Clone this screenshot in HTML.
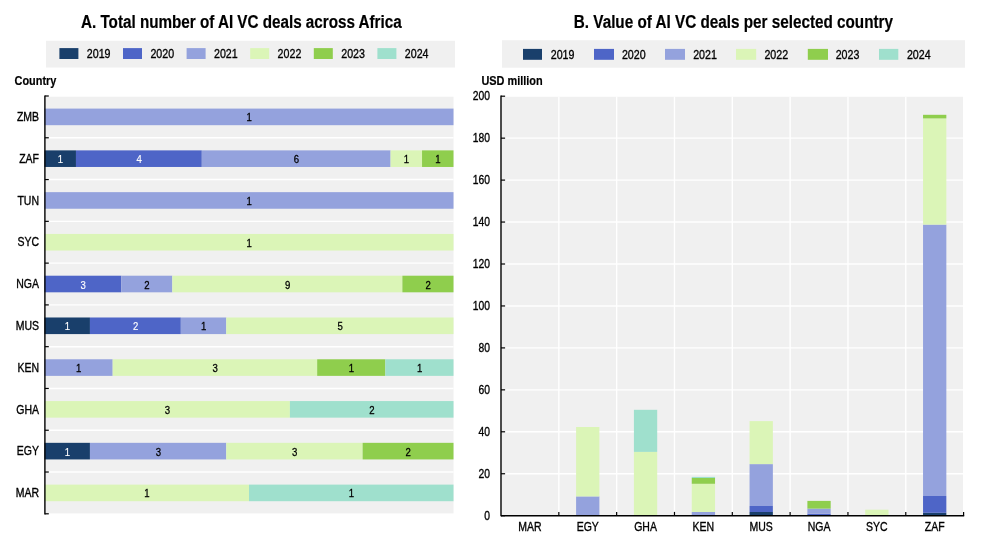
<!DOCTYPE html>
<html><head><meta charset="utf-8"><title>AI VC deals across Africa</title>
<style>
html,body{margin:0;padding:0;background:#fff;}
body{width:981px;height:541px;overflow:hidden;}
svg{display:block;font-family:"Liberation Sans",Arial,sans-serif;}
</style></head><body>
<svg width="981" height="541" viewBox="0 0 981 541">
<rect x="0" y="0" width="981" height="541" fill="#ffffff"/>
<text transform="translate(81.00,27.90) scale(0.816,1)" font-size="18.67" text-anchor="start" fill="#000" font-weight="bold" stroke="#000" stroke-width="0.2">A. Total number of AI VC deals across Africa</text>
<rect x="46.00" y="40.80" width="409.00" height="26.70" fill="#f0f0f0"/>
<rect x="59.40" y="48.10" width="19.00" height="10.90" fill="#193f6b"/>
<text transform="translate(86.80,58.10) scale(0.8,1)" font-size="13.33" text-anchor="start" fill="#000" stroke="#000" stroke-width="0.35">2019</text>
<rect x="123.00" y="48.10" width="19.00" height="10.90" fill="#4e65c7"/>
<text transform="translate(150.40,58.10) scale(0.8,1)" font-size="13.33" text-anchor="start" fill="#000" stroke="#000" stroke-width="0.35">2020</text>
<rect x="186.60" y="48.10" width="19.00" height="10.90" fill="#94a2dd"/>
<text transform="translate(214.00,58.10) scale(0.8,1)" font-size="13.33" text-anchor="start" fill="#000" stroke="#000" stroke-width="0.35">2021</text>
<rect x="250.20" y="48.10" width="19.00" height="10.90" fill="#dbf5b7"/>
<text transform="translate(277.60,58.10) scale(0.8,1)" font-size="13.33" text-anchor="start" fill="#000" stroke="#000" stroke-width="0.35">2022</text>
<rect x="313.80" y="48.10" width="19.00" height="10.90" fill="#8fce4d"/>
<text transform="translate(341.20,58.10) scale(0.8,1)" font-size="13.33" text-anchor="start" fill="#000" stroke="#000" stroke-width="0.35">2023</text>
<rect x="377.40" y="48.10" width="19.00" height="10.90" fill="#9fe0cd"/>
<text transform="translate(404.80,58.10) scale(0.8,1)" font-size="13.33" text-anchor="start" fill="#000" stroke="#000" stroke-width="0.35">2024</text>
<text transform="translate(14.50,85.00) scale(0.82,1)" font-size="13.33" text-anchor="start" fill="#000" font-weight="bold" stroke="#000" stroke-width="0.2">Country</text>
<rect x="44.50" y="96.70" width="409.00" height="416.70" fill="#f0f0f0"/>
<line x1="44.50" y1="137.78" x2="453.50" y2="137.78" stroke="#fff" stroke-width="1.4"/>
<line x1="44.50" y1="179.56" x2="453.50" y2="179.56" stroke="#fff" stroke-width="1.4"/>
<line x1="44.50" y1="221.34" x2="453.50" y2="221.34" stroke="#fff" stroke-width="1.4"/>
<line x1="44.50" y1="263.12" x2="453.50" y2="263.12" stroke="#fff" stroke-width="1.4"/>
<line x1="44.50" y1="304.90" x2="453.50" y2="304.90" stroke="#fff" stroke-width="1.4"/>
<line x1="44.50" y1="346.68" x2="453.50" y2="346.68" stroke="#fff" stroke-width="1.4"/>
<line x1="44.50" y1="388.46" x2="453.50" y2="388.46" stroke="#fff" stroke-width="1.4"/>
<line x1="44.50" y1="430.24" x2="453.50" y2="430.24" stroke="#fff" stroke-width="1.4"/>
<line x1="44.50" y1="472.02" x2="453.50" y2="472.02" stroke="#fff" stroke-width="1.4"/>
<rect x="44.50" y="108.59" width="409.00" height="16.60" fill="#94a2dd"/>
<text transform="translate(249.20,121.39) scale(0.82,1)" font-size="11.7" text-anchor="middle" fill="#000" stroke="#000" stroke-width="0.3">1</text>
<text transform="translate(39.00,121.09) scale(0.82,1)" font-size="12.8" text-anchor="end" fill="#000" stroke="#000" stroke-width="0.35">ZMB</text>
<rect x="44.50" y="150.37" width="31.46" height="16.60" fill="#193f6b"/>
<text transform="translate(60.43,163.17) scale(0.82,1)" font-size="11.7" text-anchor="middle" fill="#fff" stroke="#fff" stroke-width="0.15">1</text>
<rect x="75.96" y="150.37" width="125.85" height="16.60" fill="#4e65c7"/>
<text transform="translate(139.08,163.17) scale(0.82,1)" font-size="11.7" text-anchor="middle" fill="#fff" stroke="#fff" stroke-width="0.15">4</text>
<rect x="201.81" y="150.37" width="188.77" height="16.60" fill="#94a2dd"/>
<text transform="translate(296.39,163.17) scale(0.82,1)" font-size="11.7" text-anchor="middle" fill="#000" stroke="#000" stroke-width="0.3">6</text>
<rect x="390.58" y="150.37" width="31.46" height="16.60" fill="#dbf5b7"/>
<text transform="translate(406.51,163.17) scale(0.82,1)" font-size="11.7" text-anchor="middle" fill="#000" stroke="#000" stroke-width="0.3">1</text>
<rect x="422.04" y="150.37" width="31.46" height="16.60" fill="#8fce4d"/>
<text transform="translate(437.97,163.17) scale(0.82,1)" font-size="11.7" text-anchor="middle" fill="#000" stroke="#000" stroke-width="0.3">1</text>
<text transform="translate(39.00,162.87) scale(0.82,1)" font-size="12.8" text-anchor="end" fill="#000" stroke="#000" stroke-width="0.35">ZAF</text>
<rect x="44.50" y="192.15" width="409.00" height="16.60" fill="#94a2dd"/>
<text transform="translate(249.20,204.95) scale(0.82,1)" font-size="11.7" text-anchor="middle" fill="#000" stroke="#000" stroke-width="0.3">1</text>
<text transform="translate(39.00,204.65) scale(0.82,1)" font-size="12.8" text-anchor="end" fill="#000" stroke="#000" stroke-width="0.35">TUN</text>
<rect x="44.50" y="233.93" width="409.00" height="16.60" fill="#dbf5b7"/>
<text transform="translate(249.20,246.73) scale(0.82,1)" font-size="11.7" text-anchor="middle" fill="#000" stroke="#000" stroke-width="0.3">1</text>
<text transform="translate(39.00,246.43) scale(0.82,1)" font-size="12.8" text-anchor="end" fill="#000" stroke="#000" stroke-width="0.35">SYC</text>
<rect x="44.50" y="275.71" width="76.69" height="16.60" fill="#4e65c7"/>
<text transform="translate(83.04,288.51) scale(0.82,1)" font-size="11.7" text-anchor="middle" fill="#fff" stroke="#fff" stroke-width="0.15">3</text>
<rect x="121.19" y="275.71" width="51.12" height="16.60" fill="#94a2dd"/>
<text transform="translate(146.95,288.51) scale(0.82,1)" font-size="11.7" text-anchor="middle" fill="#000" stroke="#000" stroke-width="0.3">2</text>
<rect x="172.31" y="275.71" width="230.06" height="16.60" fill="#dbf5b7"/>
<text transform="translate(287.54,288.51) scale(0.82,1)" font-size="11.7" text-anchor="middle" fill="#000" stroke="#000" stroke-width="0.3">9</text>
<rect x="402.38" y="275.71" width="51.12" height="16.60" fill="#8fce4d"/>
<text transform="translate(428.14,288.51) scale(0.82,1)" font-size="11.7" text-anchor="middle" fill="#000" stroke="#000" stroke-width="0.3">2</text>
<text transform="translate(39.00,287.61) scale(0.82,1)" font-size="12.8" text-anchor="end" fill="#000" stroke="#000" stroke-width="0.35">NGA</text>
<rect x="44.50" y="317.49" width="45.44" height="16.60" fill="#193f6b"/>
<text transform="translate(67.42,330.29) scale(0.82,1)" font-size="11.7" text-anchor="middle" fill="#fff" stroke="#fff" stroke-width="0.15">1</text>
<rect x="89.94" y="317.49" width="90.89" height="16.60" fill="#4e65c7"/>
<text transform="translate(135.59,330.29) scale(0.82,1)" font-size="11.7" text-anchor="middle" fill="#fff" stroke="#fff" stroke-width="0.15">2</text>
<rect x="180.83" y="317.49" width="45.44" height="16.60" fill="#94a2dd"/>
<text transform="translate(203.76,330.29) scale(0.82,1)" font-size="11.7" text-anchor="middle" fill="#000" stroke="#000" stroke-width="0.3">1</text>
<rect x="226.28" y="317.49" width="227.22" height="16.60" fill="#dbf5b7"/>
<text transform="translate(340.09,330.29) scale(0.82,1)" font-size="11.7" text-anchor="middle" fill="#000" stroke="#000" stroke-width="0.3">5</text>
<text transform="translate(39.00,329.99) scale(0.82,1)" font-size="12.8" text-anchor="end" fill="#000" stroke="#000" stroke-width="0.35">MUS</text>
<rect x="44.50" y="359.27" width="68.17" height="16.60" fill="#94a2dd"/>
<text transform="translate(78.78,372.07) scale(0.82,1)" font-size="11.7" text-anchor="middle" fill="#000" stroke="#000" stroke-width="0.3">1</text>
<rect x="112.67" y="359.27" width="204.50" height="16.60" fill="#dbf5b7"/>
<text transform="translate(215.12,372.07) scale(0.82,1)" font-size="11.7" text-anchor="middle" fill="#000" stroke="#000" stroke-width="0.3">3</text>
<rect x="317.17" y="359.27" width="68.17" height="16.60" fill="#8fce4d"/>
<text transform="translate(351.45,372.07) scale(0.82,1)" font-size="11.7" text-anchor="middle" fill="#000" stroke="#000" stroke-width="0.3">1</text>
<rect x="385.33" y="359.27" width="68.17" height="16.60" fill="#9fe0cd"/>
<text transform="translate(419.62,372.07) scale(0.82,1)" font-size="11.7" text-anchor="middle" fill="#000" stroke="#000" stroke-width="0.3">1</text>
<text transform="translate(39.00,371.77) scale(0.82,1)" font-size="12.8" text-anchor="end" fill="#000" stroke="#000" stroke-width="0.35">KEN</text>
<rect x="44.50" y="401.05" width="245.40" height="16.60" fill="#dbf5b7"/>
<text transform="translate(167.40,413.85) scale(0.82,1)" font-size="11.7" text-anchor="middle" fill="#000" stroke="#000" stroke-width="0.3">3</text>
<rect x="289.90" y="401.05" width="163.60" height="16.60" fill="#9fe0cd"/>
<text transform="translate(371.90,413.85) scale(0.82,1)" font-size="11.7" text-anchor="middle" fill="#000" stroke="#000" stroke-width="0.3">2</text>
<text transform="translate(39.00,413.55) scale(0.82,1)" font-size="12.8" text-anchor="end" fill="#000" stroke="#000" stroke-width="0.35">GHA</text>
<rect x="44.50" y="442.83" width="45.44" height="16.60" fill="#193f6b"/>
<text transform="translate(67.42,455.63) scale(0.82,1)" font-size="11.7" text-anchor="middle" fill="#fff" stroke="#fff" stroke-width="0.15">1</text>
<rect x="89.94" y="442.83" width="136.33" height="16.60" fill="#94a2dd"/>
<text transform="translate(158.31,455.63) scale(0.82,1)" font-size="11.7" text-anchor="middle" fill="#000" stroke="#000" stroke-width="0.3">3</text>
<rect x="226.28" y="442.83" width="136.33" height="16.60" fill="#dbf5b7"/>
<text transform="translate(294.64,455.63) scale(0.82,1)" font-size="11.7" text-anchor="middle" fill="#000" stroke="#000" stroke-width="0.3">3</text>
<rect x="362.61" y="442.83" width="90.89" height="16.60" fill="#8fce4d"/>
<text transform="translate(408.26,455.63) scale(0.82,1)" font-size="11.7" text-anchor="middle" fill="#000" stroke="#000" stroke-width="0.3">2</text>
<text transform="translate(39.00,455.33) scale(0.82,1)" font-size="12.8" text-anchor="end" fill="#000" stroke="#000" stroke-width="0.35">EGY</text>
<rect x="44.50" y="484.61" width="204.50" height="16.60" fill="#dbf5b7"/>
<text transform="translate(146.95,497.41) scale(0.82,1)" font-size="11.7" text-anchor="middle" fill="#000" stroke="#000" stroke-width="0.3">1</text>
<rect x="249.00" y="484.61" width="204.50" height="16.60" fill="#9fe0cd"/>
<text transform="translate(351.45,497.41) scale(0.82,1)" font-size="11.7" text-anchor="middle" fill="#000" stroke="#000" stroke-width="0.3">1</text>
<text transform="translate(39.00,497.11) scale(0.82,1)" font-size="12.8" text-anchor="end" fill="#000" stroke="#000" stroke-width="0.35">MAR</text>
<line x1="44.90" y1="95.40" x2="44.90" y2="514.40" stroke="#000" stroke-width="1.4"/>
<line x1="44.90" y1="96.00" x2="48.80" y2="96.00" stroke="#000" stroke-width="1.2"/>
<line x1="44.90" y1="137.78" x2="48.80" y2="137.78" stroke="#000" stroke-width="1.2"/>
<line x1="44.90" y1="179.56" x2="48.80" y2="179.56" stroke="#000" stroke-width="1.2"/>
<line x1="44.90" y1="221.34" x2="48.80" y2="221.34" stroke="#000" stroke-width="1.2"/>
<line x1="44.90" y1="263.12" x2="48.80" y2="263.12" stroke="#000" stroke-width="1.2"/>
<line x1="44.90" y1="304.90" x2="48.80" y2="304.90" stroke="#000" stroke-width="1.2"/>
<line x1="44.90" y1="346.68" x2="48.80" y2="346.68" stroke="#000" stroke-width="1.2"/>
<line x1="44.90" y1="388.46" x2="48.80" y2="388.46" stroke="#000" stroke-width="1.2"/>
<line x1="44.90" y1="430.24" x2="48.80" y2="430.24" stroke="#000" stroke-width="1.2"/>
<line x1="44.90" y1="472.02" x2="48.80" y2="472.02" stroke="#000" stroke-width="1.2"/>
<line x1="44.90" y1="513.80" x2="48.80" y2="513.80" stroke="#000" stroke-width="1.2"/>
<text transform="translate(573.80,27.90) scale(0.818,1)" font-size="18.67" text-anchor="start" fill="#000" font-weight="bold" stroke="#000" stroke-width="0.2">B. Value of AI VC deals per selected country</text>
<rect x="502.00" y="40.20" width="463.00" height="27.50" fill="#f0f0f0"/>
<rect x="523.00" y="48.90" width="19.00" height="10.90" fill="#193f6b"/>
<text transform="translate(550.70,59.10) scale(0.8,1)" font-size="13.33" text-anchor="start" fill="#000" stroke="#000" stroke-width="0.35">2019</text>
<rect x="594.00" y="48.90" width="20.00" height="10.90" fill="#4e65c7"/>
<text transform="translate(621.94,59.10) scale(0.8,1)" font-size="13.33" text-anchor="start" fill="#000" stroke="#000" stroke-width="0.35">2020</text>
<rect x="665.00" y="48.90" width="20.00" height="10.90" fill="#94a2dd"/>
<text transform="translate(693.18,59.10) scale(0.8,1)" font-size="13.33" text-anchor="start" fill="#000" stroke="#000" stroke-width="0.35">2021</text>
<rect x="736.00" y="48.90" width="20.20" height="10.90" fill="#dbf5b7"/>
<text transform="translate(764.42,59.10) scale(0.8,1)" font-size="13.33" text-anchor="start" fill="#000" stroke="#000" stroke-width="0.35">2022</text>
<rect x="807.80" y="48.90" width="20.20" height="10.90" fill="#8fce4d"/>
<text transform="translate(835.66,59.10) scale(0.8,1)" font-size="13.33" text-anchor="start" fill="#000" stroke="#000" stroke-width="0.35">2023</text>
<rect x="879.00" y="48.90" width="19.30" height="10.90" fill="#9fe0cd"/>
<text transform="translate(906.90,59.10) scale(0.8,1)" font-size="13.33" text-anchor="start" fill="#000" stroke="#000" stroke-width="0.35">2024</text>
<text transform="translate(481.40,85.20) scale(0.82,1)" font-size="13.33" text-anchor="start" fill="#000" font-weight="bold" stroke="#000" stroke-width="0.2">USD million</text>
<rect x="501.60" y="96.80" width="461.40" height="418.90" fill="#f0f0f0"/>
<line x1="501.00" y1="473.75" x2="963.00" y2="473.75" stroke="#fff" stroke-width="1.4"/>
<line x1="501.00" y1="431.80" x2="963.00" y2="431.80" stroke="#fff" stroke-width="1.4"/>
<line x1="501.00" y1="389.85" x2="963.00" y2="389.85" stroke="#fff" stroke-width="1.4"/>
<line x1="501.00" y1="347.90" x2="963.00" y2="347.90" stroke="#fff" stroke-width="1.4"/>
<line x1="501.00" y1="305.95" x2="963.00" y2="305.95" stroke="#fff" stroke-width="1.4"/>
<line x1="501.00" y1="264.00" x2="963.00" y2="264.00" stroke="#fff" stroke-width="1.4"/>
<line x1="501.00" y1="222.05" x2="963.00" y2="222.05" stroke="#fff" stroke-width="1.4"/>
<line x1="501.00" y1="180.10" x2="963.00" y2="180.10" stroke="#fff" stroke-width="1.4"/>
<line x1="501.00" y1="138.15" x2="963.00" y2="138.15" stroke="#fff" stroke-width="1.4"/>
<line x1="558.83" y1="96.80" x2="558.83" y2="515.70" stroke="#fff" stroke-width="1.4"/>
<line x1="616.65" y1="96.80" x2="616.65" y2="515.70" stroke="#fff" stroke-width="1.4"/>
<line x1="674.48" y1="96.80" x2="674.48" y2="515.70" stroke="#fff" stroke-width="1.4"/>
<line x1="732.30" y1="96.80" x2="732.30" y2="515.70" stroke="#fff" stroke-width="1.4"/>
<line x1="790.12" y1="96.80" x2="790.12" y2="515.70" stroke="#fff" stroke-width="1.4"/>
<line x1="847.95" y1="96.80" x2="847.95" y2="515.70" stroke="#fff" stroke-width="1.4"/>
<line x1="905.78" y1="96.80" x2="905.78" y2="515.70" stroke="#fff" stroke-width="1.4"/>
<text transform="translate(529.91,530.80) scale(0.82,1)" font-size="12.8" text-anchor="middle" fill="#000" stroke="#000" stroke-width="0.35">MAR</text>
<rect x="576.09" y="515.00" width="23.30" height="0.70" fill="#193f6b"/>
<rect x="576.09" y="496.40" width="23.30" height="18.60" fill="#94a2dd"/>
<rect x="576.09" y="427.00" width="23.30" height="69.40" fill="#dbf5b7"/>
<text transform="translate(587.74,530.80) scale(0.82,1)" font-size="12.8" text-anchor="middle" fill="#000" stroke="#000" stroke-width="0.35">EGY</text>
<rect x="633.91" y="451.90" width="23.30" height="63.80" fill="#dbf5b7"/>
<rect x="633.91" y="409.80" width="23.30" height="42.10" fill="#9fe0cd"/>
<text transform="translate(645.56,530.80) scale(0.82,1)" font-size="12.8" text-anchor="middle" fill="#000" stroke="#000" stroke-width="0.35">GHA</text>
<rect x="691.74" y="512.00" width="23.30" height="3.70" fill="#94a2dd"/>
<rect x="691.74" y="483.80" width="23.30" height="28.20" fill="#dbf5b7"/>
<rect x="691.74" y="478.00" width="23.30" height="5.80" fill="#8fce4d"/>
<rect x="691.74" y="476.90" width="23.30" height="1.10" fill="#9fe0cd"/>
<text transform="translate(703.39,530.80) scale(0.82,1)" font-size="12.8" text-anchor="middle" fill="#000" stroke="#000" stroke-width="0.35">KEN</text>
<rect x="749.56" y="512.00" width="23.30" height="3.70" fill="#193f6b"/>
<rect x="749.56" y="506.00" width="23.30" height="6.00" fill="#4e65c7"/>
<rect x="749.56" y="464.10" width="23.30" height="41.90" fill="#94a2dd"/>
<rect x="749.56" y="421.10" width="23.30" height="43.00" fill="#dbf5b7"/>
<text transform="translate(761.21,530.80) scale(0.82,1)" font-size="12.8" text-anchor="middle" fill="#000" stroke="#000" stroke-width="0.35">MUS</text>
<rect x="807.39" y="513.70" width="23.30" height="2.00" fill="#4e65c7"/>
<rect x="807.39" y="508.60" width="23.30" height="5.10" fill="#94a2dd"/>
<rect x="807.39" y="500.90" width="23.30" height="7.70" fill="#8fce4d"/>
<text transform="translate(819.04,530.80) scale(0.82,1)" font-size="12.8" text-anchor="middle" fill="#000" stroke="#000" stroke-width="0.35">NGA</text>
<rect x="865.21" y="509.70" width="23.30" height="6.00" fill="#dbf5b7"/>
<text transform="translate(876.86,530.80) scale(0.82,1)" font-size="12.8" text-anchor="middle" fill="#000" stroke="#000" stroke-width="0.35">SYC</text>
<rect x="923.04" y="512.80" width="23.30" height="2.90" fill="#193f6b"/>
<rect x="923.04" y="496.00" width="23.30" height="16.80" fill="#4e65c7"/>
<rect x="923.04" y="224.60" width="23.30" height="271.40" fill="#94a2dd"/>
<rect x="923.04" y="118.40" width="23.30" height="106.20" fill="#dbf5b7"/>
<rect x="923.04" y="114.80" width="23.30" height="3.60" fill="#8fce4d"/>
<text transform="translate(934.69,530.80) scale(0.82,1)" font-size="12.8" text-anchor="middle" fill="#000" stroke="#000" stroke-width="0.35">ZAF</text>
<text transform="translate(489.90,520.10) scale(0.82,1)" font-size="12.6" text-anchor="end" fill="#000" stroke="#000" stroke-width="0.35">0</text>
<line x1="501.00" y1="515.70" x2="505.10" y2="515.70" stroke="#000" stroke-width="1.2"/>
<text transform="translate(489.90,478.08) scale(0.82,1)" font-size="12.6" text-anchor="end" fill="#000" stroke="#000" stroke-width="0.35">20</text>
<line x1="501.00" y1="473.75" x2="505.10" y2="473.75" stroke="#000" stroke-width="1.2"/>
<text transform="translate(489.90,436.06) scale(0.82,1)" font-size="12.6" text-anchor="end" fill="#000" stroke="#000" stroke-width="0.35">40</text>
<line x1="501.00" y1="431.80" x2="505.10" y2="431.80" stroke="#000" stroke-width="1.2"/>
<text transform="translate(489.90,394.04) scale(0.82,1)" font-size="12.6" text-anchor="end" fill="#000" stroke="#000" stroke-width="0.35">60</text>
<line x1="501.00" y1="389.85" x2="505.10" y2="389.85" stroke="#000" stroke-width="1.2"/>
<text transform="translate(489.90,352.02) scale(0.82,1)" font-size="12.6" text-anchor="end" fill="#000" stroke="#000" stroke-width="0.35">80</text>
<line x1="501.00" y1="347.90" x2="505.10" y2="347.90" stroke="#000" stroke-width="1.2"/>
<text transform="translate(489.90,310.00) scale(0.82,1)" font-size="12.6" text-anchor="end" fill="#000" stroke="#000" stroke-width="0.35">100</text>
<line x1="501.00" y1="305.95" x2="505.10" y2="305.95" stroke="#000" stroke-width="1.2"/>
<text transform="translate(489.90,267.98) scale(0.82,1)" font-size="12.6" text-anchor="end" fill="#000" stroke="#000" stroke-width="0.35">120</text>
<line x1="501.00" y1="264.00" x2="505.10" y2="264.00" stroke="#000" stroke-width="1.2"/>
<text transform="translate(489.90,225.96) scale(0.82,1)" font-size="12.6" text-anchor="end" fill="#000" stroke="#000" stroke-width="0.35">140</text>
<line x1="501.00" y1="222.05" x2="505.10" y2="222.05" stroke="#000" stroke-width="1.2"/>
<text transform="translate(489.90,183.94) scale(0.82,1)" font-size="12.6" text-anchor="end" fill="#000" stroke="#000" stroke-width="0.35">160</text>
<line x1="501.00" y1="180.10" x2="505.10" y2="180.10" stroke="#000" stroke-width="1.2"/>
<text transform="translate(489.90,141.92) scale(0.82,1)" font-size="12.6" text-anchor="end" fill="#000" stroke="#000" stroke-width="0.35">180</text>
<line x1="501.00" y1="138.15" x2="505.10" y2="138.15" stroke="#000" stroke-width="1.2"/>
<text transform="translate(489.90,99.90) scale(0.82,1)" font-size="12.6" text-anchor="end" fill="#000" stroke="#000" stroke-width="0.35">200</text>
<line x1="501.00" y1="96.20" x2="505.10" y2="96.20" stroke="#000" stroke-width="1.2"/>
<line x1="501.00" y1="95.60" x2="501.00" y2="516.30" stroke="#000" stroke-width="1.4"/>
<line x1="501.00" y1="515.70" x2="964.20" y2="515.70" stroke="#000" stroke-width="1.4"/>
<line x1="558.83" y1="515.70" x2="558.83" y2="511.90" stroke="#000" stroke-width="1.2"/>
<line x1="616.65" y1="515.70" x2="616.65" y2="511.90" stroke="#000" stroke-width="1.2"/>
<line x1="674.48" y1="515.70" x2="674.48" y2="511.90" stroke="#000" stroke-width="1.2"/>
<line x1="732.30" y1="515.70" x2="732.30" y2="511.90" stroke="#000" stroke-width="1.2"/>
<line x1="790.12" y1="515.70" x2="790.12" y2="511.90" stroke="#000" stroke-width="1.2"/>
<line x1="847.95" y1="515.70" x2="847.95" y2="511.90" stroke="#000" stroke-width="1.2"/>
<line x1="905.78" y1="515.70" x2="905.78" y2="511.90" stroke="#000" stroke-width="1.2"/>
<line x1="963.60" y1="515.70" x2="963.60" y2="511.90" stroke="#000" stroke-width="1.2"/>
</svg>
</body></html>
